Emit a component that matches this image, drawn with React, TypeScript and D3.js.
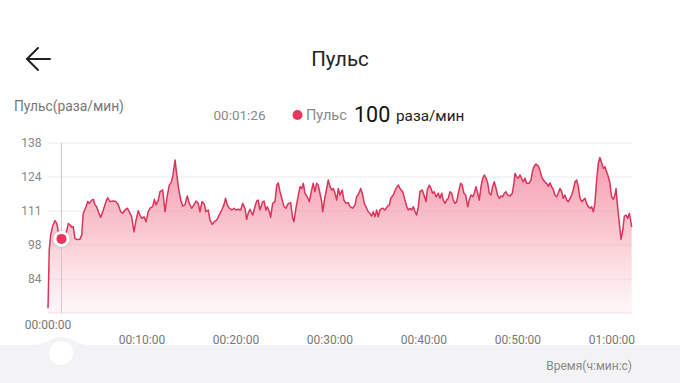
import React from "react";
import * as d3 from "d3";

// Heart-rate series: time (seconds from start) and beats per minute
const timeSec = [0,8,17,30,45,56,66,77,86,109,130,140,151,161,172,183,204,215,225,243,253,264,279,289,300,311,321,336,353,370,381,396,413,434,449,464,477,491,506,519,534,549,562,576,587,598,613,626,640,651,668,679,689,704,715,732,747,762,774,785,796,811,821,832,847,860,874,889,902,917,932,945,959,970,983,998,1008,1023,1034,1049,1061,1077,1093,1109,1123,1134,1144,1157,1173,1187,1200,1215,1230,1243,1257,1268,1278,1289,1307,1321,1332,1342,1353,1370,1379,1391,1400,1413,1421,1434,1449,1460,1470,1481,1498,1506,1519,1534,1549,1562,1570,1583,1598,1609,1620,1630,1640,1655,1668,1683,1693,1704,1715,1725,1736,1747,1753,1768,1779,1789,1800,1811,1821,1832,1843,1853,1864,1878,1889,1902,1917,1928,1945,1960,1970,1985,1996,2009,2019,2034,2044,2055,2066,2076,2087,2098,2108,2119,2136,2151,2166,2179,2188,2204,2221,2236,2247,2264,2279,2290,2300,2311,2321,2332,2343,2353,2364,2374,2389,2400,2413,2421,2434,2445,2455,2466,2477,2491,2502,2513,2523,2534,2545,2555,2566,2577,2587,2598,2609,2619,2634,2644,2655,2666,2679,2689,2700,2711,2721,2732,2743,2753,2764,2775,2785,2796,2807,2817,2828,2838,2849,2860,2870,2881,2892,2902,2913,2923,2934,2949,2964,2974,2981,2992,3002,3013,3023,3034,3045,3055,3070,3083,3094,3104,3115,3130,3140,3151,3162,3172,3183,3194,3204,3215,3226,3236,3247,3257,3268,3279,3289,3300,3311,3321,3332,3343,3353,3364,3375,3385,3396,3407,3417,3428,3438,3449,3460,3470,3481,3491,3502,3513,3523,3534,3545,3555,3566,3577,3587,3598,3609,3619,3626,3636,3645,3658,3669,3679,3690,3701,3711,3717,3726];
const bpm = [72.7,95.6,101.5,105.1,107.2,106.1,102.8,100.9,100,100.2,106.1,105.5,104.6,104.8,100.2,99.8,99.9,101.5,110.1,112.7,114.7,114.0,115.3,115.6,113.4,112.7,110.7,108.5,111.4,114.7,116.2,114.7,114.9,114.7,113.4,110.7,110.1,111.4,112.1,110.7,108.7,102.8,107.4,111.1,109.4,108.1,108.7,106.8,110.7,112.1,112.7,115.6,113.4,115.3,118.6,119.3,110.7,117.3,121.2,122.1,124.5,131.1,125.8,120.6,115.3,113.0,113.4,116.9,114.0,112.1,113.4,114.9,114.0,110.7,114.7,113.7,110.7,111.4,107.4,105.7,106.8,107.4,109.4,111.4,113.4,116.0,113.4,112.1,111.4,112.1,111.4,111.7,111.4,114.0,112.1,107.7,110.1,111.7,109.4,112.7,115.0,115.3,111.4,114.7,114.9,111.4,112.7,110.7,108.5,114.0,114.7,121.2,122.1,118.6,114.7,112.7,112.1,114.0,114.3,108.1,106.8,112.1,117.3,120.6,119.9,121.9,118.0,116.6,114.7,119.3,121.9,118.6,121.9,121.2,118.0,114.7,110.7,116.6,119.9,123.2,120.6,119.3,119.9,118.0,115.3,119.9,117.3,119.3,115.3,114.0,114.3,112.7,112.1,113.4,116.6,118.0,119.9,117.3,114.0,112.1,110.7,110.1,109.0,110.7,108.7,111.4,108.7,111.4,112.1,111.4,112.7,113.4,116.0,117.3,119.9,121.2,119.9,118.6,115.3,112.7,111.4,112.1,111.4,112.7,110.7,109.4,112.7,118.6,119.3,117.3,114.7,119.3,121.2,119.9,118.0,118.6,116.6,118.0,116.0,118.0,115.3,114.0,115.3,116.0,118.6,118.0,115.3,114.0,114.7,118.0,121.9,121.2,118.0,117.3,112.7,115.3,117.3,116.6,118.0,120.6,118.0,115.3,120.6,123.9,125.2,123.9,121.9,118.0,117.3,120.6,122.5,119.9,117.3,116.0,116.9,116.6,118.0,118.6,117.3,116.9,118.0,121.9,125.8,124.5,123.9,125.2,123.9,122.5,123.9,121.9,121.9,123.2,127.1,128.7,129.5,128.7,127.1,124.5,123.2,122.5,121.9,120.8,122.1,120.6,119.3,117.3,116.6,118.0,119.9,118.6,116.0,117.3,115.3,114.7,116.0,117.3,119.3,122.5,123.2,120.6,116.0,114.7,115.3,116.0,114.0,112.7,112.1,112.7,110.7,114.0,123.2,129.8,132.1,130.0,127.8,128.4,126.5,124.5,121.9,116.6,115.6,117.3,119.9,112.7,107.4,99.8,103.5,109.0,109.4,108.1,110.1,108.1,104.6];

const xTickSec = [600, 1200, 1800, 2400, 3000, 3600];
const xTickLabels = ["00:10:00", "00:20:00", "00:30:00", "00:40:00", "00:50:00", "01:00:00"];
const startLabel = "00:00:00";
const yMin = 70.8;
const yMax = 137.8;
const yTickCount = 5;

const cursorSec = 86;
const cursorLabel = "00:01:26";
const cursorBpm = 100;

const titleText = "Пульс";
const yAxisTitle = "Пульс(раза/мин)";
const seriesName = "Пульс";
const unitText = "раза/мин";
const xAxisTitle = "Время(ч:мин:с)";

const W = 680, H = 383;
const FONT = "Roboto, 'Noto Sans', 'DejaVu Sans', sans-serif";

export default function App() {
  const data = timeSec.map((t, i) => ({ t, v: bpm[i] }));
  const x = d3.scaleLinear().domain([0, d3.max(timeSec) as number]).range([48, 631.7]);
  const y = d3.scaleLinear().domain([yMin, yMax]).range([313, 143]);
  const step = (yMax - yMin) / yTickCount;
  const yTicks = d3.range(0, yTickCount + 1).map((k) => yMin + k * step);
  const fmt = d3.format(".0f");

  const line = d3.line<{ t: number; v: number }>().x((d) => x(d.t)).y((d) => y(d.v));
  const area = d3
    .area<{ t: number; v: number }>()
    .x((d) => x(d.t))
    .y0(y(yMin))
    .y1((d) => y(d.v));

  const cx = x(cursorSec);
  const cy = y(cursorBpm);

  return (
    <svg
      width={W}
      height={H}
      viewBox={`0 0 ${W} ${H}`}
      style={{ position: "absolute", left: 0, top: 0, background: "#fff", fontFamily: FONT }}
    >
      <defs>
        <linearGradient id="areaGrad" gradientUnits="userSpaceOnUse" x1="0" y1="150" x2="0" y2="313">
          <stop offset="0" stopColor="#f27d97" stopOpacity={0.8} />
          <stop offset="0.5" stopColor="#f4909f" stopOpacity={0.5} />
          <stop offset="1" stopColor="#f8b4c2" stopOpacity={0.12} />
        </linearGradient>
        <filter id="shadow" x="-50%" y="-50%" width="200%" height="200%">
          <feDropShadow dx="0" dy="0" stdDeviation="1.5" floodColor="#000" floodOpacity="0.25" />
        </filter>
      </defs>

      {/* header */}
      <g stroke="#222" strokeWidth={2} fill="none" strokeLinecap="round" strokeLinejoin="round">
        <line x1={27} y1={59} x2={50} y2={59} />
        <polyline points="38,48 27,59 38,70" />
      </g>
      <text x={340} y={66} textAnchor="middle" fontSize={20.5} fill="#222">
        {titleText}
      </text>

      {/* legend row */}
      <text x={14} y={111} fontSize={13.8} fill="#777">
        {yAxisTitle}
      </text>
      <text x={239.5} y={120} textAnchor="middle" fontSize={13.5} fill="#888">
        {cursorLabel}
      </text>
      <circle cx={297.5} cy={115} r={5} fill="#e8365a" />
      <text x={306} y={120} fontSize={14.5} fill="#888">
        {seriesName}
      </text>
      <text x={354} y={122} fontSize={21.5} fill="#111">
        {fmt(cursorBpm)}
      </text>
      <text x={396} y={120.5} fontSize={15.3} fill="#222">
        {unitText}
      </text>

      {/* grid + y labels */}
      {yTicks.map((v, i) => (
        <g key={i}>
          <line x1={48} x2={631.7} y1={y(v)} y2={y(v)} stroke={i === 0 ? "#f6e4e8" : "#ececec"} strokeWidth={1} />
          {i > 0 && (
            <text x={41.5} y={y(v) + 4} textAnchor="end" fontSize={12} fill="#888">
              {fmt(v)}
            </text>
          )}
        </g>
      ))}

      {/* area + line */}
      <path d={area(data) || ""} fill="url(#areaGrad)" />
      <path d={line(data) || ""} fill="none" stroke="#d9345c" strokeWidth={1.5} strokeLinejoin="round" />

      {/* cursor */}
      <line x1={cx} x2={cx} y1={143} y2={313} stroke="#d8c4c9" strokeWidth={1} />
      <circle cx={cx} cy={cy} r={8} fill="#fff" filter="url(#shadow)" />
      <circle cx={cx} cy={cy} r={5} fill="#e8365a" />

      {/* x labels */}
      <text x={x(0)} y={329} textAnchor="middle" fontSize={12} fill="#777">
        {startLabel}
      </text>
      {xTickSec.map((t, i) => (
        <text key={t} x={x(t)} y={343.5} textAnchor="middle" fontSize={12} fill="#777">
          {xTickLabels[i]}
        </text>
      ))}

      {/* bottom slider band */}
      <path
        d="M0 345 H33 C46 345 50 337 61 337 C72 337 76 345 89 345 H680 V383 H0 Z"
        fill="#f3f3f5"
      />
      <circle cx={61} cy={353} r={12} fill="#fff" />
      <text x={632} y={370} textAnchor="end" fontSize={12} fill="#888">
        {xAxisTitle}
      </text>
    </svg>
  );
}
